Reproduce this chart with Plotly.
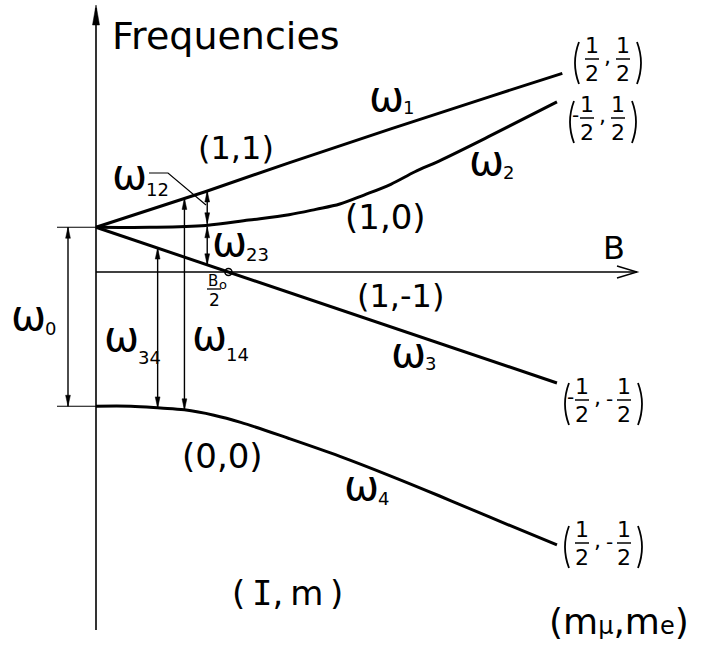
import numpy as np
import plotly.graph_objects as go

# Breit-Rabi levels of muonium: field B in units of B0, frequency in units of omega0
B_1 = [0.0, 0.41, 0.72, 1.10, 1.47, 1.74]
W_1 = [0.25, 0.45, 0.61, 0.80, 0.98, 1.11]
B_2 = [0.0, 0.20, 0.41, 0.57, 0.72, 0.82, 0.91, 1.00, 1.10, 1.19, 1.28, 1.47, 1.72]
W_2 = [0.25, 0.25, 0.26, 0.29, 0.32, 0.35, 0.38, 0.43, 0.49, 0.56, 0.62, 0.76, 0.95]
B_3 = [0.0, 1.72]
W_3 = [0.25, -0.62]
B_4 = [0.0, 0.13, 0.24, 0.33, 0.44, 0.54, 0.72, 0.91, 1.10, 1.28, 1.47, 1.72]
W_4 = [-0.75, -0.75, -0.76, -0.77, -0.80, -0.84, -0.93, -1.03, -1.14, -1.25, -1.37, -1.525]

# field values at which the transition arrows are drawn
B_T34 = 0.23
B_T14 = 0.33
B_T12 = 0.415

FONT = "DejaVu Sans"
W, H = 703, 655
X0, SX = 96, 268      # pixel of B = 0, pixels per B0
Y0, SY = 272, 179     # pixel of omega = 0, pixels per omega0
OMEGA_SIZE = 42
OMEGA_ADV = 34        # advance of the omega glyph at OMEGA_SIZE, in pixels


def bx(px):
    return (px - X0) / SX


def wy(py):
    return (Y0 - py) / SY


def level(b, bs, ws):
    return float(np.interp(b, bs, ws))


fig = go.Figure()
shapes = []
annotations = []

# energy levels
for bs, ws, shape in [(B_1, W_1, "linear"), (B_2, W_2, "spline"),
                      (B_3, W_3, "linear"), (B_4, W_4, "spline")]:
    fig.add_trace(go.Scatter(x=bs, y=ws, mode="lines",
                             line=dict(color="black", width=3, shape=shape, smoothing=1.0),
                             hoverinfo="skip", showlegend=False))


def seg(x0, y0, x1, y1, width=1.4):
    shapes.append(dict(type="line", xref="x", yref="y", x0=x0, y0=y0, x1=x1, y1=y1,
                       line=dict(color="black", width=width)))


def pxpath(points, width=1.2):
    d = "M " + " L ".join(f"{bx(px)},{wy(py)}" for px, py in points)
    shapes.append(dict(type="path", xref="x", yref="y", path=d,
                       line=dict(color="black", width=width)))


def head(x, y, direction, length=11, half=2.4):
    """Narrow filled arrowhead with its tip at (x, y); direction +1 up, -1 down."""
    L = length / SY * direction
    h = half / SX
    path = f"M {x},{y} L {x - h},{y - L} L {x + h},{y - L} Z"
    shapes.append(dict(type="path", xref="x", yref="y", path=path,
                       fillcolor="black", line=dict(color="black", width=0.5)))


def dim_arrow(b, lo, hi):
    seg(b, lo, b, hi)
    head(b, hi, +1)
    head(b, lo, -1)


def text(s, px, py, size, xanchor="center", yanchor="middle", pad=1):
    annotations.append(dict(x=bx(px), y=wy(py), xref="x", yref="y", text=s,
                            showarrow=False, xanchor=xanchor, yanchor=yanchor,
                            borderpad=pad,
                            font=dict(family=FONT, size=size, color="black")))


def omega(left, cy, sub, sub_cy):
    """Omega with a small index set just after the glyph."""
    text("ω", left - 2, cy - 2, OMEGA_SIZE, xanchor="left", pad=0)
    text(sub, left - 2 + OMEGA_ADV, sub_cy, 18, xanchor="left", pad=0)


# axes
seg(0, wy(630), 0, wy(8), width=1.6)
head(0, wy(5), +1, length=20, half=3.5)
b_end = bx(637)
seg(0, 0, b_end, 0, width=1.4)
pxpath([(617, 266), (637, 272), (617, 278)], width=1.4)

# zero-field splitting omega0
w_top, w_bot = W_1[0], W_4[0]
seg(bx(57), w_top, 0, w_top, width=1.2)
seg(bx(57), w_bot, 0, w_bot, width=1.2)
dim_arrow(bx(68), w_bot, w_top)

# transitions
dim_arrow(B_T34, level(B_T34, B_4, W_4), level(B_T34, B_3, W_3))
dim_arrow(B_T14, level(B_T14, B_4, W_4), level(B_T14, B_1, W_1))
mid2 = level(B_T12, B_2, W_2)
dim_arrow(B_T12, mid2 + 1.5 / SY, level(B_T12, B_1, W_1))
dim_arrow(B_T12, level(B_T12, B_3, W_3), mid2 - 1.5 / SY)

# B0/2 point where level 3 crosses zero
b_half = float(np.interp(0.0, W_3[::-1], B_3[::-1]))
fig.add_trace(go.Scatter(x=[b_half], y=[0], mode="markers",
                         marker=dict(symbol="circle-open", size=7, color="black",
                                     line=dict(width=1.6)),
                         hoverinfo="skip", showlegend=False))
text("B", 207, 281, 15, xanchor="left", pad=0)
text("o", 218, 284, 13, xanchor="left", pad=0)
seg(bx(207), wy(289), bx(221), wy(289), width=1.3)
text("2", 214, 300, 17, pad=0)

# labels
text("Frequencies", 110, 36, 38, xanchor="left")
text("B", 614, 248, 32)
text("(1,1)", 236, 148, 32)
text("(1,0)", 385, 217, 34)
text("(1,-1)", 400, 296, 32)
text("(0,0)", 222, 456, 34)
text("(\u2009<span style='font-family:DejaVu Sans Mono'>I</span>,\u2009m\u2009)", 287, 593, 34)
text("(m<span style='font-size:24px'>μ</span>,m<span style='font-size:24px'>e</span>)",
     619, 621, 36)

omega(12, 317, "0", 328)
omega(370, 98, "1", 107)
omega(470, 162, "2", 172)
omega(392, 354, "3", 363)
omega(345, 487, "4", 498)
omega(113, 176.5, "12", 189)
omega(213, 243, "23", 254)
omega(105, 338, "34", 357)
omega(193, 337.5, "14", 354)

# leader from the omega12 label to its arrow
pxpath([(149, 173), (168, 173), (206, 205)], width=1.2)


def paren(x, yc, side):
    """Thin bracket drawn as a curve; side -1 for '(' and +1 for ')'."""
    top, bot = yc - 17, yc + 25
    bulge = x + side * 8
    d = (f"M {bx(x)},{wy(top)} Q {bx(bulge)},{wy((top + bot) / 2)} "
         f"{bx(x)},{wy(bot)}")
    shapes.append(dict(type="path", xref="x", yref="y", path=d,
                       line=dict(color="black", width=1.8)))


def frac(cx, yc):
    text("1", cx, yc, 22, yanchor="bottom", pad=0)
    text("2", cx, yc + 1, 22, yanchor="top", pad=0)
    seg(bx(cx - 7), wy(yc), bx(cx + 7), wy(yc), width=1.5)


def state(x0, yc, neg1, neg2):
    paren(x0 + 7, yc, -1)
    c1 = x0 + 20
    if neg1:
        text("-", c1 - 12, yc - 3, 20, pad=0)
    frac(c1, yc)
    text(",", c1 + 15, yc - 3, 22, pad=0)
    c2 = c1 + (42 if neg2 else 31)
    if neg2:
        text("-", c2 - 15, yc - 1, 20, pad=0)
    frac(c2, yc)
    paren(c2 + 14, yc, +1)


state(572, 59, False, False)
state(567, 118, True, False)
state(562, 400, True, True)
state(562, 543, False, True)

fig.update_layout(
    width=W, height=H,
    margin=dict(l=0, r=0, t=0, b=0),
    paper_bgcolor="white", plot_bgcolor="white",
    xaxis=dict(range=[bx(0), bx(W)], visible=False, fixedrange=True),
    yaxis=dict(range=[wy(H), wy(0)], visible=False, fixedrange=True),
    shapes=shapes, annotations=annotations,
    showlegend=False,
)

fig.write_html("out.html")
